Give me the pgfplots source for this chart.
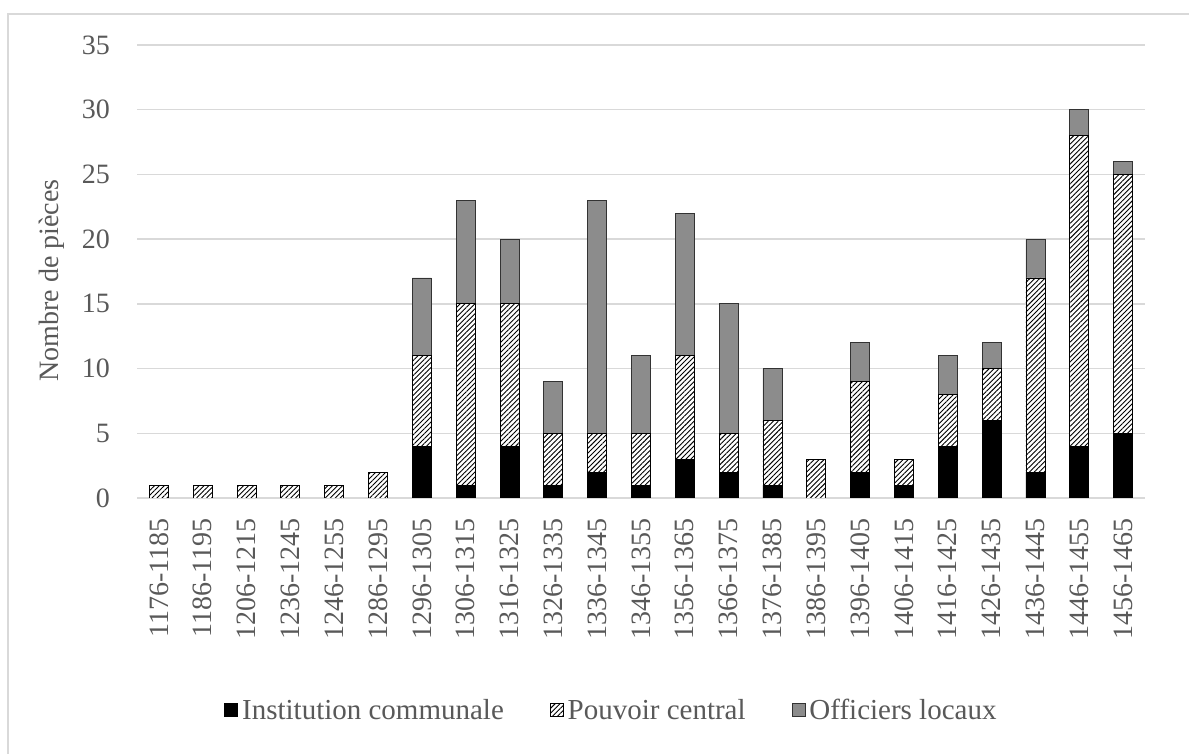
\documentclass[border=0pt]{standalone}
\usepackage{pgfplots}
\pgfplotsset{compat=1.18}
\usepackage{pgfplotstable}
\usepackage{fontspec}
\setmainfont{Liberation Serif}
\usetikzlibrary{patterns,patterns.meta}
\definecolor{gridgray}{HTML}{D9D9D9}
\definecolor{txtgray}{HTML}{595959}
\definecolor{barg}{HTML}{8C8C8C}

\pgfplotstableread{
x inst pouv off
0 0 1 0
1 0 1 0
2 0 1 0
3 0 1 0
4 0 1 0
5 0 2 0
6 4 7 6
7 1 14 8
8 4 11 5
9 1 4 4
10 2 3 18
11 1 4 6
12 3 8 11
13 2 3 10
14 1 5 4
15 0 3 0
16 2 7 3
17 1 2 0
18 4 4 3
19 6 4 2
20 2 15 3
21 4 24 2
22 5 20 1
}\data

\begin{document}
\begin{tikzpicture}
\useasboundingbox (0,0) rectangle (1189pt,754pt);
\fill[white] (0,0) rectangle (1189pt,754pt);
\draw[gridgray, line width=2pt] (8pt,0) -- (8pt,740pt) -- (1189pt,740pt);
\begin{axis}[
  at={(137pt,256pt)}, anchor=south west,
  scale only axis, width=1008pt, height=453pt,
  ybar stacked, bar width=19pt,
  xmin=-0.5, xmax=22.5, ymin=0, ymax=35,
  xtick=data,
  xticklabels={1176-1185,1186-1195,1206-1215,1236-1245,1246-1255,1286-1295,1296-1305,1306-1315,1316-1325,1326-1335,1336-1345,1346-1355,1356-1365,1366-1375,1376-1385,1386-1395,1396-1405,1406-1415,1416-1425,1426-1435,1436-1445,1446-1455,1456-1465},
  ytick={0,5,...,35},
  ymajorgrids, grid style={gridgray, line width=1.3pt},
  axis x line=bottom, axis y line=left,
  x axis line style={gridgray, line width=1.3pt, -},
  y axis line style={draw=none},
  major tick length=0pt,
  /pgf/number format/assume math mode=true,
  ticklabel style={font=\fontsize{28pt}{32pt}\selectfont, text=txtgray, inner sep=0pt},
  xticklabel style={rotate=90, anchor=east},
  xticklabel shift=20pt,
  yticklabel shift=27pt,
  ylabel={Nombre de pièces},
  ylabel style={at={(axis description cs:-0.0843,0.48)}, anchor=center, font=\fontsize{28pt}{32pt}\selectfont, text=txtgray},
  legend columns=3,
  legend style={at={(axis description cs:0.4717,-0.468)}, anchor=center, draw=none, fill=none,
    font=\fontsize{29pt}{32pt}\selectfont, text=txtgray,
    nodes={inner sep=2pt, inner xsep=4pt},
    /tikz/every even column/.append style={column sep=42pt}},
  legend image code/.code={\draw[#1, line width=0.8pt] (0pt,-6.5pt) rectangle (13pt,6.5pt);},
]
\addplot[fill=black, draw=black, line width=0.8pt] table[x=x, y=inst]{\data};
\addplot[fill=white, draw=black, line width=0.8pt, postaction={pattern={Lines[angle=45, distance=3.5pt, line width=0.9pt]}}] table[x=x, y=pouv]{\data};
\addplot[fill=barg, draw=black!80, line width=0.8pt] table[x=x, y=off]{\data};
\legend{Institution communale, Pouvoir central, Officiers locaux}
\end{axis}
\end{tikzpicture}
\end{document}
